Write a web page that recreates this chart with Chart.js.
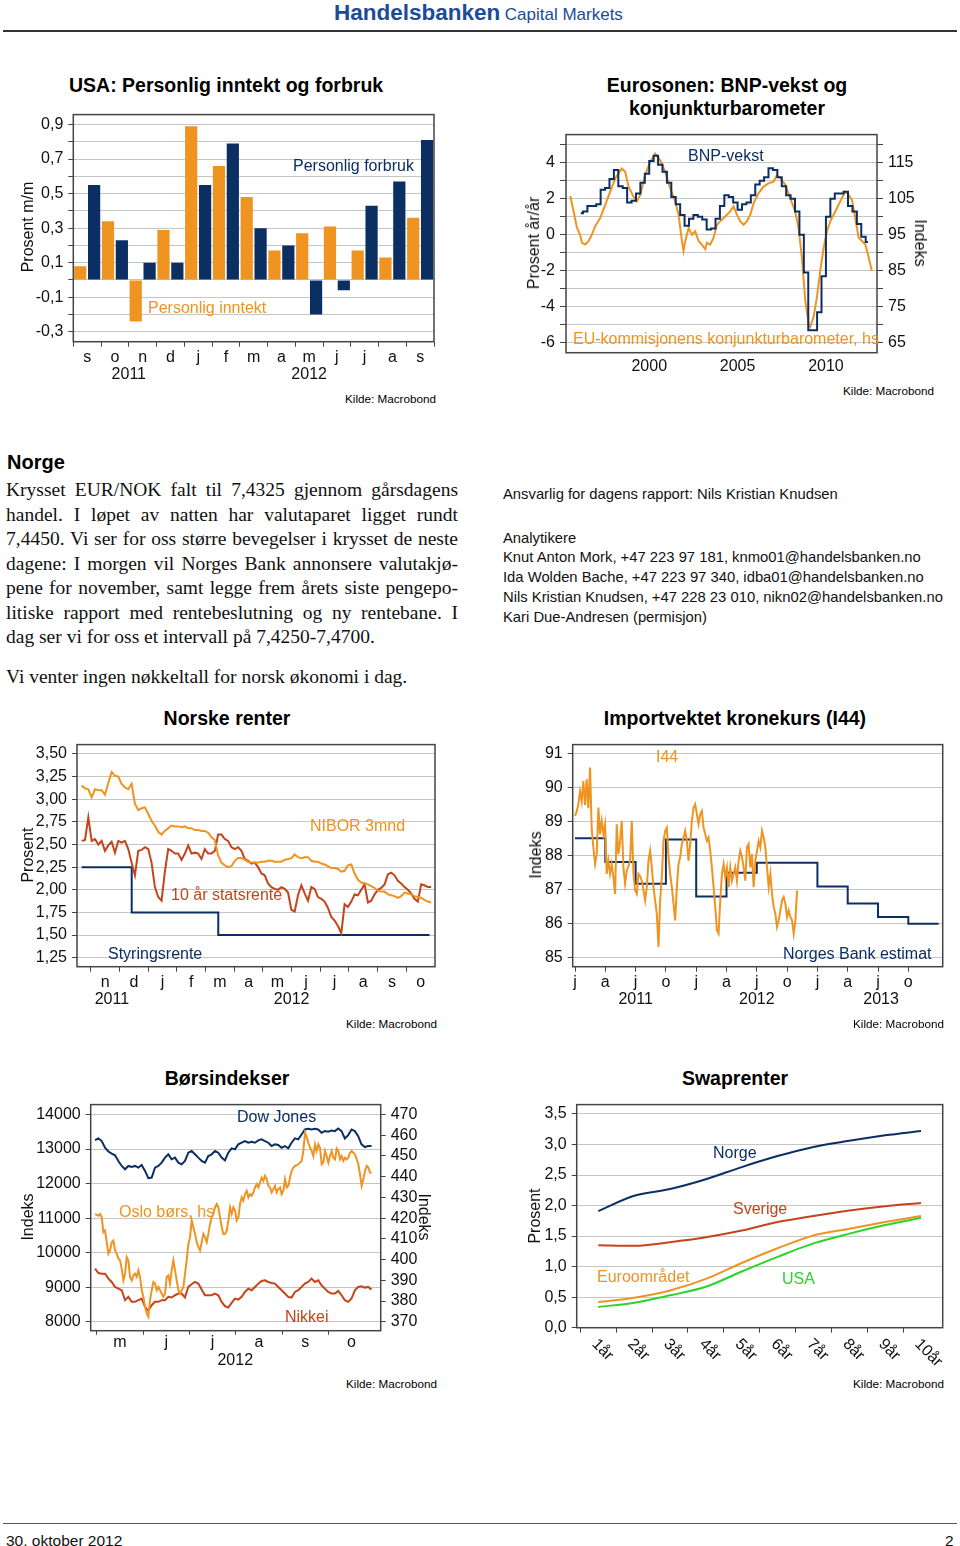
<!DOCTYPE html>
<html>
<head>
<meta charset="utf-8">
<title>Dagsrapport 30. oktober 2012</title>
<script src="https://cdn.jsdelivr.net/npm/chart.js@4.4.1/dist/chart.umd.min.js"></script>
<style>
  body { margin: 0; width: 960px; height: 1546px; position: relative; overflow: hidden; background: #fff;
         font-family: "Liberation Sans", Arial, Helvetica, sans-serif; color: #111; }
  canvas { position: absolute; }
  .t { position: absolute; white-space: nowrap; line-height: 1; font-size: 16px; }
  .m { transform: translateY(-50%); }
  .c { transform: translate(-50%, -50%); }
  .rl { transform: translate(-50%, -50%) rotate(-90deg); }
  .rr { transform: translate(-50%, -50%) rotate(90deg); }
  .h { font-weight: bold; font-size: 19.5px; color: #000; }
  .src { font-size: 11.7px; color: #000; }
  .navy { color: #0c2f63; }
  .orange { color: #ef9321; }
  .red { color: #c4441c; }
  .green { color: #2ad42a; }
  .rule { position: absolute; left: 3px; width: 954px; background: #333; }
  .p { position: absolute; left: 6px; width: 452px; font-family: "Liberation Serif", "Times New Roman", serif;
       font-size: 19.5px; line-height: 1; transform: translateY(-50%); }
  .j { text-align: justify; text-align-last: justify; }
  .s { position: absolute; left: 503px; font-size: 14.8px; line-height: 1; white-space: nowrap; transform: translateY(-50%); }
</style>
</head>
<body>

<!-- header -->
<div class="t" style="left:334px;top:2px;color:#1c4b97;line-height:1;">
  <span style="font-weight:bold;font-size:22.5px;">Handelsbanken</span>
  <span style="font-size:17px;">Capital Markets</span>
</div>
<div class="rule" style="top:30px;height:2px;"></div>

<canvas id="usa" width="445" height="290" style="left:0;top:100px;"></canvas>
<canvas id="euro" width="440" height="260" style="left:520px;top:120px;"></canvas>
<canvas id="renter" width="445" height="280" style="left:0;top:730px;"></canvas>
<canvas id="i44" width="440" height="280" style="left:520px;top:730px;"></canvas>
<canvas id="bors" width="445" height="280" style="left:0;top:1090px;"></canvas>
<canvas id="swap" width="440" height="280" style="left:520px;top:1090px;"></canvas>

<!-- chart 1 -->
<div class="t h m" style="left:69px;top:86px;">USA: Personlig inntekt og forbruk</div>
<div class="t m navy" style="left:293px;top:166px;">Personlig forbruk</div>
<div class="t m orange" style="left:148px;top:308px;">Personlig inntekt</div>
<div class="t rl" style="left:28px;top:227px;">Prosent m/m</div>
<div class="t src m" style="left:345px;top:399px;">Kilde: Macrobond</div>

<!-- chart 2 -->
<div class="t h c" style="left:727px;top:86px;">Eurosonen: BNP-vekst og</div>
<div class="t h c" style="left:727px;top:109px;">konjunkturbarometer</div>
<div class="t m navy" style="left:688px;top:156px;">BNP-vekst</div>
<div class="t m orange" style="left:573px;top:339px;">EU-kommisjonens konjunkturbarometer, hs</div>
<div class="t rl" style="left:534px;top:243px;">Prosent år/år</div>
<div class="t rr" style="left:920px;top:243px;">Indeks</div>
<div class="t src m" style="left:843px;top:391px;">Kilde: Macrobond</div>

<!-- text -->
<div class="t m" style="left:7px;top:461.5px;font-size:20px;font-weight:bold;color:#000;">Norge</div>
<div class="p j" style="top:490px;">Krysset EUR/NOK falt til 7,4325 gjennom gårsdagens</div>
<div class="p j" style="top:514.5px;">handel. I løpet av natten har valutaparet ligget rundt</div>
<div class="p j" style="top:539px;">7,4450. Vi ser for oss større bevegelser i krysset de neste</div>
<div class="p j" style="top:563.5px;">dagene: I morgen vil Norges Bank annonsere valutakjø-</div>
<div class="p j" style="top:588px;">pene for november, samt legge frem årets siste pengepo-</div>
<div class="p j" style="top:612.5px;">litiske rapport med rentebeslutning og ny rentebane. I</div>
<div class="p" style="top:637px;">dag ser vi for oss et intervall på 7,4250-7,4700.</div>
<div class="p" style="top:677px;">Vi venter ingen nøkkeltall for norsk økonomi i dag.</div>

<div class="s" style="top:494px;">Ansvarlig for dagens rapport: Nils Kristian Knudsen</div>
<div class="s" style="top:537.7px;">Analytikere</div>
<div class="s" style="top:557.3px;">Knut Anton Mork, +47 223 97 181, knmo01@handelsbanken.no</div>
<div class="s" style="top:577.3px;">Ida Wolden Bache, +47 223 97 340, idba01@handelsbanken.no</div>
<div class="s" style="top:596.7px;">Nils Kristian Knudsen, +47 228 23 010, nikn02@handelsbanken.no</div>
<div class="s" style="top:616.7px;">Kari Due-Andresen (permisjon)</div>

<!-- chart 3 -->
<div class="t h c" style="left:227px;top:719px;">Norske renter</div>
<div class="t m orange" style="left:310px;top:826px;">NIBOR 3mnd</div>
<div class="t m red" style="left:171px;top:895px;">10 år statsrente</div>
<div class="t m navy" style="left:108px;top:954px;">Styringsrente</div>
<div class="t rl" style="left:28px;top:855px;">Prosent</div>
<div class="t src m" style="left:346px;top:1023.5px;">Kilde: Macrobond</div>

<!-- chart 4 -->
<div class="t h c" style="left:735px;top:719px;">Importvektet kronekurs (I44)</div>
<div class="t m orange" style="left:656px;top:757px;">I44</div>
<div class="t m navy" style="left:783px;top:954px;">Norges Bank estimat</div>
<div class="t rl" style="left:536px;top:855px;">Indeks</div>
<div class="t src m" style="left:853px;top:1023.5px;">Kilde: Macrobond</div>

<!-- chart 5 -->
<div class="t h c" style="left:227px;top:1079px;">Børsindekser</div>
<div class="t m navy" style="left:237px;top:1117px;">Dow Jones</div>
<div class="t m orange" style="left:119px;top:1211.5px;">Oslo børs, hs</div>
<div class="t m red" style="left:285px;top:1317px;">Nikkei</div>
<div class="t rl" style="left:28px;top:1217px;">Indeks</div>
<div class="t rr" style="left:424px;top:1217px;">Indeks</div>
<div class="t src m" style="left:346px;top:1383.5px;">Kilde: Macrobond</div>

<!-- chart 6 -->
<div class="t h c" style="left:735px;top:1079px;">Swaprenter</div>
<div class="t m navy" style="left:713px;top:1153px;">Norge</div>
<div class="t m red" style="left:733px;top:1209px;">Sverige</div>
<div class="t m orange" style="left:597px;top:1277px;">Euroområdet</div>
<div class="t m green" style="left:782px;top:1279px;">USA</div>
<div class="t rl" style="left:535px;top:1216px;">Prosent</div>
<div class="t src m" style="left:853px;top:1383.5px;">Kilde: Macrobond</div>

<!-- footer -->
<div class="rule" style="top:1522.5px;height:1.5px;background:#555;"></div>
<div class="t m" style="left:6px;top:1541px;font-size:15.5px;">30. oktober 2012</div>
<div class="t m" style="left:945px;top:1541px;font-size:15.5px;">2</div>

<script>
// ---------- data ----------
// USA, monthly change in percent
const usaMonths = ['s', 'o', 'n', 'd', 'j', 'f', 'm', 'a', 'm', 'j', 'j', 'a', 's'];
const usaInntekt = [0.08, 0.34, -0.24, 0.29, 0.89, 0.66, 0.48, 0.17, 0.27, 0.31, 0.17, 0.13, 0.36];
const usaForbruk = [0.55, 0.23, 0.10, 0.10, 0.55, 0.79, 0.30, 0.20, -0.20, -0.06, 0.43, 0.57, 0.81];
const usaYTicks = [-0.3, -0.2, -0.1, 0, 0.1, 0.2, 0.3, 0.4, 0.5, 0.6, 0.7, 0.8, 0.9];
const usaYears = [[1.5, '2011'], [8, '2012']];

// Eurozone GDP y/y (quarterly, from 1996Q1) and ESI (right axis)
const euroGdpStart = 1996.125;
const euroGdp = [1.2, 1.3, 1.6, 1.6, 1.7, 2.5, 2.6, 3.1, 3.6, 2.7, 2.6, 1.8, 1.9, 2.3, 2.9, 3.4,
  4.1, 4.4, 3.9, 3.5, 2.9, 2.1, 1.7, 1.1, 0.5, 0.9, 1.1, 1.0, 0.85, 0.3, 0.35, 0.9,
  1.6, 2.2, 2.1, 1.8, 1.4, 1.7, 1.8, 2.2, 2.8, 3.0, 3.2, 3.7, 3.6, 3.2, 2.7, 2.2,
  2.0, 1.3, 0.0, -2.1, -5.3, -5.3, -4.3, -2.3, 1.0, 2.0, 2.3, 2.3, 2.4, 1.6, 1.3, 0.6, -0.1, -0.4];
const euroEsiYears = [1995.53, 1995.72, 1995.91, 1996.09, 1996.19, 1996.38, 1996.57, 1996.75, 1996.94, 1997.23,
  1997.51, 1997.79, 1998.08, 1998.45, 1998.64, 1998.83, 1999.11, 1999.30, 1999.49, 1999.77,
  2000.06, 2000.34, 2000.62, 2000.91, 2001.19, 2001.47, 2001.66, 2001.85, 2001.94, 2002.04,
  2002.23, 2002.42, 2002.60, 2002.79, 2002.98, 2003.17, 2003.26, 2003.45, 2003.64, 2003.83,
  2004.02, 2004.30, 2004.58, 2004.77, 2004.96, 2005.15, 2005.34, 2005.53, 2005.72, 2005.91,
  2006.19, 2006.47, 2006.75, 2007.04, 2007.23, 2007.42, 2007.70, 2007.98, 2008.26, 2008.45,
  2008.64, 2008.83, 2009.02, 2009.11, 2009.30, 2009.49, 2009.68, 2009.87, 2010.06, 2010.25,
  2010.53, 2010.81, 2011.09, 2011.28, 2011.47, 2011.66, 2011.85, 2012.04, 2012.23, 2012.42, 2012.60];
const euroEsi = [105.8, 101.5, 97, 95, 92.8, 92.3, 93.3, 95, 97.4, 99.7,
  103.3, 107, 110.7, 113.4, 112.5, 108.4, 105.6, 104.3, 106.1, 111.6,
  115.3, 117.6, 115.7, 112.5, 107.9, 104.3, 100.6, 93.3, 90.5, 93.3,
  96.9, 95, 96, 93.3, 92.3, 91, 92.8, 92.3, 94.2, 97.8,
  98.8, 100.1, 101.5, 102.9, 100.6, 98.8, 97.8, 98.8, 100.6, 103.8,
  106.6, 108.4, 109.3, 109.8, 111.6, 110.7, 108.9, 105.2, 101.5, 96.9,
  88.7, 76.8, 70.3, 69.4, 72.2, 77.7, 85, 91.4, 96, 98.8,
  101.5, 104.3, 107, 106.1, 104.7, 99.7, 94.2, 93.3, 92.3, 88.7, 85];
const euroYearTicks = [2000, 2005, 2010];
const euroLeftTicks = [-6, -5, -4, -3, -2, -1, 0, 1, 2, 3, 4, 5];
const euroRightTicks = [65, 70, 75, 80, 85, 90, 95, 100, 105, 110, 115, 120];

// Norwegian rates, x in months after 1 Oct 2011
const renterStart = 0.675, renterStep = 0.1161;
const nibor = [3.15, 3.12, 3.11, 3.02, 3.11, 3.10, 3.10, 3.05, 3.18, 3.30,
  3.26, 3.25, 3.17, 3.13, 3.11, 3.17, 2.95, 2.88, 2.90, 2.91,
  2.84, 2.76, 2.71, 2.64, 2.61, 2.65, 2.68, 2.71, 2.70, 2.70,
  2.69, 2.70, 2.68, 2.68, 2.66, 2.66, 2.65, 2.65, 2.63, 2.58,
  2.55, 2.38, 2.30, 2.27, 2.25, 2.26, 2.32, 2.35, 2.35, 2.33,
  2.31, 2.30, 2.30, 2.30, 2.31, 2.31, 2.32, 2.32, 2.31, 2.31,
  2.31, 2.33, 2.34, 2.35, 2.39, 2.36, 2.35, 2.36, 2.36, 2.32,
  2.31, 2.31, 2.29, 2.28, 2.26, 2.24, 2.24, 2.23, 2.20, 2.21,
  2.27, 2.28, 2.18, 2.11, 2.08, 2.07, 2.06, 2.04, 2.02, 1.99,
  1.98, 1.98, 1.95, 1.94, 1.93, 1.91, 1.93, 1.97, 1.96, 1.95,
  1.93, 1.92, 1.91, 1.89, 1.87, 1.86];
const stat10 = [2.54, 2.55, 2.80, 2.54, 2.56, 2.50, 2.54, 2.43, 2.49, 2.53,
  2.41, 2.54, 2.52, 2.54, 2.45, 2.30, 2.16, 2.43, 2.44, 2.47,
  2.45, 2.30, 2.03, 1.92, 1.88, 2.20, 2.45, 2.43, 2.40, 2.40,
  2.33, 2.40, 2.49, 2.40, 2.41, 2.40, 2.34, 2.45, 2.40, 2.40,
  2.43, 2.61, 2.61, 2.56, 2.54, 2.47, 2.45, 2.47, 2.43, 2.34,
  2.32, 2.29, 2.30, 2.25, 2.18, 2.16, 2.07, 2.03, 2.01, 2.00,
  2.03, 2.01, 1.97, 1.78, 1.76, 1.94, 2.05, 1.96, 1.88, 2.03,
  2.01, 1.92, 1.90, 1.87, 1.80, 1.70, 1.66, 1.60, 1.52, 1.84,
  1.81, 1.87, 1.95, 1.94, 2.00, 2.06, 1.86, 1.88, 1.95, 2.00,
  2.02, 2.06, 2.17, 2.19, 2.16, 2.10, 2.07, 2.03, 2.00, 1.96,
  1.90, 1.87, 2.06, 2.05, 2.03, 2.03];
const policyDates = [0.675, 2.42, 5.44, 12.81];
const policyRate = [2.25, 1.75, 1.50, 1.50];
const renterYTicks = [1.25, 1.5, 1.75, 2, 2.25, 2.5, 2.75, 3, 3.25, 3.5];
const renterMonthTicks = [1, 2, 3, 4, 5, 6, 7, 8, 9, 10, 11, 12];
const renterYears = [[1.73, '2011'], [8.0, '2012']];

// Import-weighted krone, x in quarters after 1 Jan 2011
const i44Start = 0, i44Step = 0.0551;
const i44 = [89.18, 89.3, 89.52, 89.9, 89.6, 90.2, 89.5, 90.25, 89.4, 90.6,
  88.8, 88.25, 87.76, 88.05, 89.42, 88.64, 89.03, 88.64, 88.93, 87.47,
  87.86, 87.47, 87.76, 87.37, 86.88, 88.93, 88.05, 88.44, 89.03, 87.66,
  87.18, 87.57, 87.7, 87.86, 89.03, 87.47, 86.98, 86.88, 87.47, 87.4,
  87.27, 87.0, 86.69, 87.08, 87.86, 88.15, 87.66, 87.08, 86.69, 86.3,
  85.32, 86.69, 87.37, 88.44, 88.74, 88.83, 87.96, 87.47, 87.08, 86.59,
  86.1, 87.08, 87.76, 87.96, 88.35, 88.54, 88.74, 88.44, 87.86, 88.35,
  89.03, 89.42, 89.52, 89.22, 88.93, 89.22, 89.32, 88.83, 88.64, 88.44,
  88.54, 88.15, 87.66, 87.08, 86.49, 85.81, 85.71, 86.69, 87.47, 87.76,
  87.37, 87.66, 87.08, 87.66, 87.27, 87.47, 87.66, 87.27, 87.86, 88.15,
  87.96, 87.66, 87.27, 88.25, 88.35, 87.66, 88.05, 87.08, 87.86, 88.15,
  88.44, 88.25, 88.74, 88.54, 88.25, 87.66, 87.08, 87.47, 86.88, 86.49,
  86.3, 85.91, 86.1, 86.39, 86.69, 86.79, 86.59, 86.2, 86.39, 86.2,
  86.1, 85.71, 86.1, 86.98];
const nbQuarters = [0, 1, 2, 3, 4, 5, 6, 8, 9, 10, 11, 12];
const nbEstimate = [88.52, 87.82, 87.18, 88.48, 86.80, 87.50, 87.80, 87.10, 86.60, 86.20, 86.00, 86.00];
const i44YTicks = [85, 86, 87, 88, 89, 90, 91];
const i44QuarterTicks = [0, 1, 2, 3, 4, 5, 6, 7, 8, 9, 10, 11];
const i44Years = [[2, '2011'], [6, '2012'], [10.1, '2013']];

// Stock indices, x in months after 1 Jan 2012
const borsStart = 3.964, borsStep = 0.0719, osloStep = 0.03597;
const dowJones = [13261, 13309, 13232, 13040, 12930, 12870, 12819, 12656, 12512, 12416,
  12512, 12483, 12512, 12464, 12541, 12368, 12157, 12176, 12464, 12512,
  12608, 12752, 12848, 12704, 12752, 12608, 12560, 12656, 12896, 12944,
  12848, 12752, 12656, 12608, 12800, 12848, 12944, 12896, 12752, 12675,
  12896, 13021, 12992, 13136, 13184, 13232, 13184, 13213, 13184, 13251,
  13280, 13232, 13184, 13088, 13136, 13117, 13040, 13088, 13021, 13184,
  13309, 13280, 13424, 13568, 13587, 13568, 13587, 13568, 13472, 13520,
  13501, 13539, 13520, 13597, 13520, 13309, 13405, 13568, 13520, 13376,
  13136, 13059, 13088, 13088];
const nikkei = [9536, 9411, 9392, 9392, 9248, 9152, 9008, 8960, 8912, 8624,
  8720, 8576, 8576, 8624, 8672, 8432, 8317, 8480, 8576, 8576,
  8624, 8624, 8720, 8701, 8768, 8816, 8816, 8701, 9008, 9085,
  9152, 9104, 8931, 8768, 8768, 8768, 8816, 8768, 8576, 8451,
  8413, 8547, 8672, 8643, 8720, 8864, 8960, 8912, 9008, 9104,
  9181, 9200, 9152, 9123, 9104, 9008, 8912, 8816, 8720, 8701,
  8864, 8912, 9008, 9104, 9152, 9248, 9152, 9200, 9056, 8960,
  8864, 8816, 8816, 8893, 8768, 8624, 8576, 8672, 8912, 9008,
  9027, 8989, 9008, 8931];
const oslo = [422, 421.6, 421.2, 422, 420.4, 413.2, 414, 408.4, 402.8, 404.4,
  408.4, 409.2, 404.4, 402.8, 400.4, 399.6, 395.6, 390, 393.2, 401.2,
  399.6, 391.6, 390, 392.4, 393.2, 391.6, 394.8, 391.6, 385.2, 382,
  377.2, 374, 372.4, 380.4, 385.2, 389.2, 388.4, 385.2, 386.8, 385.2,
  383.6, 382, 383.6, 391.6, 392.4, 388.4, 394.8, 399.6, 394.8, 390,
  385.2, 383.6, 385.2, 386.8, 393.2, 399.6, 407.6, 410.8, 418.8, 415.6,
  412.4, 408.4, 406, 404.4, 408.4, 412.4, 410.8, 408.4, 412.4, 417.2,
  420.4, 422, 425.2, 426.8, 425.2, 420.4, 415.6, 412.4, 412.4, 414,
  418.8, 425.2, 422, 425.2, 423.6, 418.8, 420.4, 426.8, 430, 428.4,
  431.6, 433.2, 430, 431.6, 430.8, 432.4, 434.8, 436.4, 434.8, 437.2,
  439.6, 438, 440.4, 438.8, 435.6, 434.8, 432.4, 434, 435.6, 432.4,
  434, 434.8, 431.6, 433.2, 438.8, 434.8, 435.6, 439.6, 442.8, 444.4,
  445.2, 445.5, 446, 446.8, 447.6, 452.4, 461.2, 459.2, 456.4, 454,
  452.4, 450, 455.6, 452.4, 455.6, 454, 446, 446.8, 452.4, 450,
  446.8, 450, 452.4, 449.2, 448.4, 453.6, 452.4, 448.4, 450, 447.6,
  449.2, 448.4, 449.2, 451.6, 452.4, 451.6, 450.8, 448.4, 446, 441.2,
  435.6, 438.8, 442.8, 445.2, 444.4, 442, 442];
const borsLeftTicks = [8000, 9000, 10000, 11000, 12000, 13000, 14000];
const borsRightTicks = [370, 380, 390, 400, 410, 420, 430, 440, 450, 460, 470];
const borsMonthTicks = [4, 5, 6, 7, 8, 9];
const borsYears = [[6.99, '2012']];

// Swap curves
const swapTenors = ['1år', '2år', '3år', '4år', '5år', '6år', '7år', '8år', '9år', '10år'];
const swapNorge = [1.91, 2.16, 2.27, 2.43, 2.63, 2.81, 2.96, 3.06, 3.15, 3.22];
const swapSverige = [1.35, 1.34, 1.40, 1.48, 1.59, 1.73, 1.83, 1.92, 1.99, 2.04];
const swapEuro = [0.42, 0.49, 0.61, 0.80, 1.06, 1.30, 1.51, 1.62, 1.73, 1.83];
const swapUsa = [0.34, 0.41, 0.53, 0.67, 0.92, 1.16, 1.38, 1.54, 1.68, 1.80];
const swapYTicks = [0, 0.5, 1, 1.5, 2, 2.5, 3, 3.5];
const swapBoundaries = [0.5, 1.5, 2.5, 3.5, 4.5, 5.5, 6.5, 7.5, 8.5, 9.5];

const monthLetters = ['j', 'f', 'm', 'a', 'm', 'j', 'j', 'a', 's', 'o', 'n', 'd'];
const quarterLetters = ['j', 'a', 'j', 'o'];

// ---------- style ----------
const NAVY = '#0c2f63', ORANGE = '#ef9321', RED = '#c4441c', GREEN = '#2ad42a';
const GRID = '#c6c6c6', AXIS = '#444';
const FONT = '"Liberation Sans", Arial, Helvetica, sans-serif';

Chart.defaults.font.family = FONT;
Chart.defaults.font.size = 16;
Chart.defaults.color = '#111';

const comma = d => v => v.toFixed(d).replace('.', ',');

// box around the plot area
const framePlugin = {
  id: 'frame',
  afterDraw(chart) {
    const a = chart.chartArea, ctx = chart.ctx;
    ctx.save();
    ctx.strokeStyle = AXIS;
    ctx.lineWidth = 1.5;
    ctx.strokeRect(a.left, a.top, a.right - a.left, a.bottom - a.top);
    ctx.restore();
  }
};

// year row under the month letters
function yearLabels(items, dy) {
  return {
    id: 'years',
    afterDraw(chart) {
      const ctx = chart.ctx, sx = chart.scales.x;
      ctx.save();
      ctx.font = '16px ' + FONT;
      ctx.fillStyle = '#111';
      ctx.textAlign = 'center';
      ctx.textBaseline = 'middle';
      items.forEach(([v, txt]) => ctx.fillText(txt, sx.getPixelForValue(v), chart.chartArea.bottom + dy));
      ctx.restore();
    }
  };
}

// slanted tenor labels for the swap chart
const tenorLabels = {
  id: 'tenors',
  afterDraw(chart) {
    const ctx = chart.ctx, sx = chart.scales.x, bottom = chart.chartArea.bottom;
    ctx.save();
    ctx.font = '16px ' + FONT;
    ctx.fillStyle = '#111';
    ctx.textAlign = 'left';
    ctx.textBaseline = 'middle';
    swapTenors.forEach((txt, i) => {
      ctx.save();
      ctx.translate(sx.getPixelForValue(i + 1) - 4, bottom + 14);
      ctx.rotate(Math.PI / 4);
      ctx.fillText(txt, 0, 0);
      ctx.restore();
    });
    ctx.restore();
  }
};

function yAxis(width, ticks, fmt, extra) {
  return Object.assign({
    type: 'linear',
    position: 'left',
    afterFit: s => { s.width = width; },
    afterBuildTicks: s => { s.ticks = ticks.map(v => ({ value: v })); },
    border: { display: false },
    grid: { color: GRID, tickColor: AXIS, tickLength: 5, lineWidth: 1 },
    ticks: { callback: fmt, padding: 5, autoSkip: false, color: '#111' }
  }, extra);
}

function xAxis(height, ticks, fmt, tickOpts, gridOpts) {
  return {
    type: 'linear',
    afterFit: s => { s.height = height; },
    afterBuildTicks: s => { s.ticks = ticks.map(v => ({ value: v })); },
    border: { display: false },
    grid: Object.assign({ drawOnChartArea: false, tickColor: AXIS, tickLength: 5 }, gridOpts),
    ticks: Object.assign({ callback: fmt, padding: 1, autoSkip: false, maxRotation: 0, color: '#111' }, tickOpts)
  };
}

function options(padding, scales) {
  return {
    responsive: false,
    animation: false,
    layout: { padding },
    plugins: { legend: { display: false }, tooltip: { enabled: false } },
    elements: { point: { radius: 0 }, line: { borderWidth: 2, tension: 0 } },
    scales
  };
}

const series = (start, step, values) => values.map((y, i) => ({ x: start + step * i, y }));
const pairs = (xs, ys) => xs.map((x, i) => ({ x, y: ys[i] }));

// ---------- USA ----------
new Chart(document.getElementById('usa'), {
  type: 'bar',
  data: {
    labels: usaMonths,
    datasets: [
      { data: usaInntekt, backgroundColor: ORANGE, barPercentage: 0.88, categoryPercentage: 1 },
      { data: usaForbruk, backgroundColor: NAVY, barPercentage: 0.88, categoryPercentage: 1 }
    ]
  },
  options: options({ top: 11.7, right: 11, left: 0, bottom: 0 }, {
    x: {
      type: 'category',
      afterFit: s => { s.height = 48.3; },
      border: { display: false },
      grid: { offset: true, drawOnChartArea: false, tickColor: AXIS, tickLength: 5 },
      ticks: { padding: 1, autoSkip: false, maxRotation: 0, color: '#111' }
    },
    y: yAxis(73.3, usaYTicks, v => (Math.round(v * 10) % 2 !== 0 ? comma(1)(v) : ''), { min: -0.357, max: 0.957 })
  }),
  plugins: [framePlugin, yearLabels(usaYears, 33)]
});

// ---------- Eurozone ----------
new Chart(document.getElementById('euro'), {
  type: 'line',
  data: {
    datasets: [
      { data: series(euroGdpStart, 0.25, euroGdp), yAxisID: 'y', borderColor: NAVY, stepped: 'middle' },
      { data: pairs(euroEsiYears, euroEsi), yAxisID: 'y2', borderColor: ORANGE }
    ]
  },
  options: options({ top: 12.7, right: 0, left: 0, bottom: 0 }, {
    x: Object.assign(xAxis(27.3, euroYearTicks, v => String(v), { padding: 4.5 }, { drawTicks: false }),
      { min: 1995.29, max: 2012.89 }),
    y: yAxis(46, euroLeftTicks, v => (v % 2 === 0 ? String(v) : ''), {
      min: -6.55, max: 5.57,
      grid: { color: GRID, tickColor: AXIS, tickLength: 6 }
    }),
    y2: yAxis(83, euroRightTicks, v => (((v - 95) / 5) % 2 === 0 ? String(v) : ''), {
      position: 'right', min: 62.25, max: 122.85,
      grid: { drawOnChartArea: false, tickColor: AXIS, tickLength: 6 }
    })
  }),
  plugins: [framePlugin]
});

// ---------- Norske renter ----------
new Chart(document.getElementById('renter'), {
  type: 'line',
  data: {
    datasets: [
      { data: series(renterStart, renterStep, nibor), borderColor: ORANGE },
      { data: series(renterStart, renterStep, stat10), borderColor: RED },
      { data: pairs(policyDates, policyRate), borderColor: NAVY, stepped: 'before' }
    ]
  },
  options: options({ top: 13.3, right: 10, left: 0, bottom: 0 }, {
    x: Object.assign(xAxis(43.3, renterMonthTicks, v => monthLetters[(v + 9) % 12], { labelOffset: 14.3 }),
      { min: 0.512, max: 13.0 }),
    y: yAxis(77, renterYTicks, comma(2), { min: 1.151, max: 3.603 })
  }),
  plugins: [framePlugin, yearLabels(renterYears, 33.3)]
});

// ---------- Importvektet kronekurs ----------
new Chart(document.getElementById('i44'), {
  type: 'line',
  data: {
    datasets: [
      { data: series(i44Start, i44Step, i44), borderColor: ORANGE },
      { data: pairs(nbQuarters, nbEstimate), borderColor: NAVY, stepped: 'before' }
    ]
  },
  options: options({ top: 13.3, right: 17.3, left: 0, bottom: 0 }, {
    x: Object.assign(xAxis(43.3, i44QuarterTicks, v => quarterLetters[v % 4]), { min: -0.076, max: 12.135 }),
    y: yAxis(52.7, i44YTicks, v => String(v), { min: 84.737, max: 91.275 })
  }),
  plugins: [framePlugin, yearLabels(i44Years, 33)]
});

// ---------- Børsindekser ----------
new Chart(document.getElementById('bors'), {
  type: 'line',
  data: {
    datasets: [
      { data: series(borsStart, osloStep, oslo), yAxisID: 'y2', borderColor: ORANGE },
      { data: series(borsStart, borsStep, dowJones), yAxisID: 'y', borderColor: NAVY },
      { data: series(borsStart, borsStep, nikkei), yAxisID: 'y', borderColor: RED }
    ]
  },
  options: options({ top: 13.3, right: 0, left: 0, bottom: 0 }, {
    x: Object.assign(xAxis(39.3, borsMonthTicks, v => monthLetters[v], { labelOffset: 23.2, padding: -2 }, { tickLength: 4 }),
      { min: 3.87, max: 10.13 }),
    y: yAxis(90.7, borsLeftTicks, v => String(v), { min: 7741, max: 14288 }),
    y2: yAxis(64.3, borsRightTicks, v => String(v), {
      position: 'right', min: 365.68, max: 474.8,
      grid: { drawOnChartArea: false, tickColor: AXIS, tickLength: 5 }
    })
  }),
  plugins: [framePlugin, yearLabels(borsYears, 30)]
});

// ---------- Swaprenter ----------
const tenorX = swapTenors.map((t, i) => i + 1);
new Chart(document.getElementById('swap'), {
  type: 'line',
  data: {
    datasets: [
      { data: pairs(tenorX, swapNorge), borderColor: NAVY, cubicInterpolationMode: 'monotone' },
      { data: pairs(tenorX, swapSverige), borderColor: RED, cubicInterpolationMode: 'monotone' },
      { data: pairs(tenorX, swapEuro), borderColor: ORANGE, cubicInterpolationMode: 'monotone' },
      { data: pairs(tenorX, swapUsa), borderColor: GREEN, cubicInterpolationMode: 'monotone' }
    ]
  },
  options: options({ top: 13.3, right: 17.3, left: 0, bottom: 0 }, {
    x: Object.assign(xAxis(42.3, swapBoundaries, () => ''), { min: 0.397, max: 10.605 }),
    y: yAxis(56.7, swapYTicks, comma(1), { min: 0, max: 3.653 })
  }),
  plugins: [framePlugin, tenorLabels]
});
</script>
</body>
</html>
